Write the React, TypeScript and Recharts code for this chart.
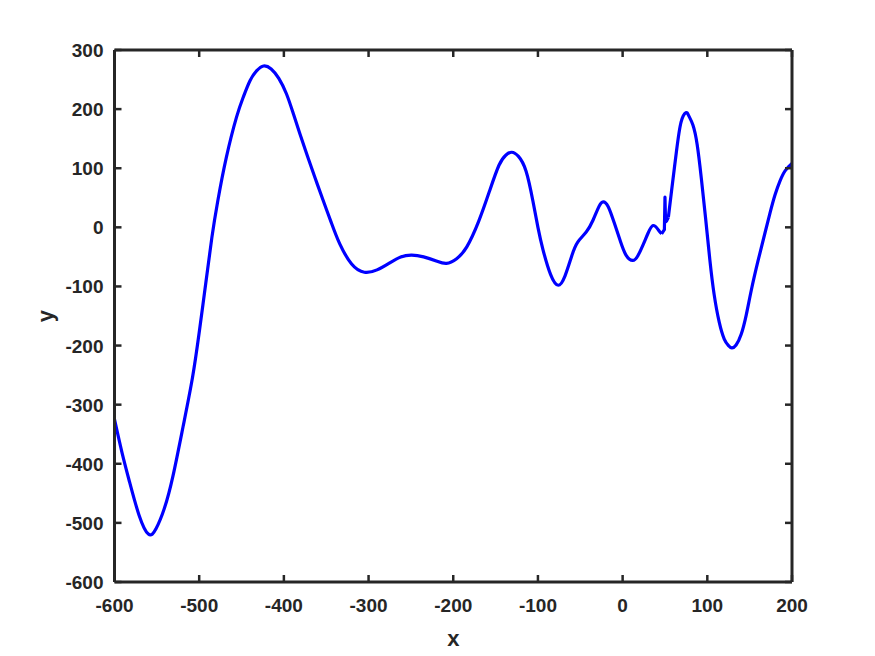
import React from "react";
import { LineChart, Line, XAxis, YAxis, Label } from "recharts";

// values
const xValues = [
  -600, -591, -582, -571, -560, -551, -541, -531, -519, -508, -500, -492, -485, -478, -468, -456, -448, -440,
  -432, -424, -415, -406, -397, -389, -381, -372, -363, -354, -344, -334, -320, -305, -290, -275, -262, -249,
  -235, -220, -208, -196, -184, -170, -157, -146, -138, -131, -123, -114, -106, -100, -94, -85, -76, -68, -60,
  -53, -43, -35, -28, -23, -17, -10, -3, 4, 12, 18, 24, 30, 36, 42, 46, 49.3, 50, 50.7, 52, 54, 57.8, 63.7, 69,
  74.7, 78, 83, 88, 93, 98, 103, 108, 114, 120, 125, 129, 134, 140, 146, 152, 160, 168, 174, 180, 186, 192, 200,
];
const yValues = [
  -325, -382, -432, -487, -519, -510, -475, -421, -337, -255, -178, -92, -17, 45, 118, 186, 220, 248,
  265, 273, 268, 252, 226, 193, 158, 120, 83, 47, 8, -28, -62, -76, -72, -60, -50, -47,
  -50, -57, -61, -53, -33, 10, 62, 105, 122, 127, 120, 95, 45, 0, -38, -80, -98, -82, -48,
  -25, -8, 12, 35, 43, 35, 8, -22, -47, -56, -48, -30, -10, 3, -4, -11, -4, 51, 9, 11, 17, 62, 130, 178,
  194, 189, 173, 140, 82, 15, -55, -113, -160, -189, -200, -204, -199, -181, -148, -106, -56, -10, 24, 55, 79, 96, 108,
];
const xTicks = [-600, -500, -400, -300, -200, -100, 0, 100, 200];
const yTicks = [-600, -500, -400, -300, -200, -100, 0, 100, 200, 300];

// the short glitch near x = 50 is drawn with straight pieces, the rest as a smooth curve
const GLITCH_FROM = 46;
const GLITCH_TO = 54;

const data = xValues.map((x, i) => ({
  x,
  all: yValues[i],
  left: x <= GLITCH_FROM ? yValues[i] : null,
  glitch: x >= GLITCH_FROM && x <= GLITCH_TO ? yValues[i] : null,
  right: x >= GLITCH_TO ? yValues[i] : null,
}));

const W = 875;
const H = 656;
const TOP = 50;
const LEFT = 114.5;
const RIGHT = 792;
const BOTTOM = 582;
const INK = "#262626";
const BLUE = "#0000ff";
const FONT = "'Liberation Sans', Arial, Helvetica, sans-serif";
const TICK_LEN = 7;
const TICK_FONT = 19;

const BottomTick = (props: any) => {
  const { x, payload } = props;
  return (
    <g>
      <line x1={x} x2={x} y1={BOTTOM} y2={BOTTOM - TICK_LEN} stroke={INK} strokeWidth={2.5} />
      <text
        x={x}
        y={BOTTOM + 30}
        textAnchor="middle"
        fontFamily={FONT}
        fontWeight="bold"
        fontSize={TICK_FONT}
        fill={INK}
      >
        {payload.value}
      </text>
    </g>
  );
};

const TopTick = (props: any) => {
  const { x } = props;
  return <line x1={x} x2={x} y1={TOP} y2={TOP + TICK_LEN} stroke={INK} strokeWidth={2.5} />;
};

const LeftTick = (props: any) => {
  const { y, payload } = props;
  return (
    <g>
      <line x1={LEFT} x2={LEFT + TICK_LEN} y1={y} y2={y} stroke={INK} strokeWidth={2.5} />
      <text
        x={LEFT - 11}
        y={y + 7}
        textAnchor="end"
        fontFamily={FONT}
        fontWeight="bold"
        fontSize={TICK_FONT}
        fill={INK}
      >
        {payload.value}
      </text>
    </g>
  );
};

const RightTick = (props: any) => {
  const { y } = props;
  return <line x1={RIGHT} x2={RIGHT - TICK_LEN} y1={y} y2={y} stroke={INK} strokeWidth={2.5} />;
};

const axisLine = { stroke: INK, strokeWidth: 3 };

export default function App() {
  return (
    <div style={{ position: "absolute", left: 0, top: 0, width: W, height: H, background: "#fff" }}>
      <LineChart
        width={W}
        height={H}
        data={data}
        margin={{ top: TOP - 1, right: W - RIGHT - 1, bottom: 0, left: 0 }}
      >
        <XAxis
          xAxisId="b"
          dataKey="x"
          type="number"
          domain={[-600, 200]}
          ticks={xTicks}
          allowDataOverflow
          height={H - BOTTOM}
          axisLine={axisLine}
          tickLine={false}
          tick={<BottomTick />}
          interval={0}
        >
          <Label
            content={() => (
              <text
                x={(LEFT + RIGHT) / 2}
                y={646}
                textAnchor="middle"
                fontFamily={FONT}
                fontWeight="bold"
                fontSize={22}
                fill={INK}
              >
                x
              </text>
            )}
          />
        </XAxis>
        <XAxis
          xAxisId="t"
          orientation="top"
          dataKey="x"
          type="number"
          domain={[-600, 200]}
          ticks={xTicks}
          allowDataOverflow
          height={1}
          axisLine={axisLine}
          tickLine={false}
          tick={<TopTick />}
          interval={0}
        />
        <YAxis
          yAxisId="l"
          type="number"
          domain={[-600, 300]}
          ticks={yTicks}
          allowDataOverflow
          width={LEFT}
          axisLine={axisLine}
          tickLine={false}
          tick={<LeftTick />}
          interval={0}
        >
          <Label
            content={() => (
              <text
                x={45}
                y={(TOP + BOTTOM) / 2}
                textAnchor="middle"
                dominantBaseline="central"
                transform={`rotate(-90, 45, ${(TOP + BOTTOM) / 2})`}
                fontFamily={FONT}
                fontWeight="bold"
                fontSize={22}
                fill={INK}
              >
                y
              </text>
            )}
          />
        </YAxis>
        <YAxis
          yAxisId="r"
          orientation="right"
          type="number"
          domain={[-600, 300]}
          ticks={yTicks}
          allowDataOverflow
          width={1}
          axisLine={axisLine}
          tickLine={false}
          tick={<RightTick />}
          interval={0}
        />
        {/* invisible series so the top and right frame axes are drawn */}
        <Line
          xAxisId="t"
          yAxisId="r"
          dataKey="all"
          stroke="none"
          dot={false}
          activeDot={false}
          isAnimationActive={false}
        />
        <Line
          xAxisId="b"
          yAxisId="l"
          dataKey="left"
          type="natural"
          stroke={BLUE}
          strokeWidth={3.2}
          dot={false}
          isAnimationActive={false}
        />
        <Line
          xAxisId="b"
          yAxisId="l"
          dataKey="glitch"
          type="linear"
          stroke={BLUE}
          strokeWidth={3.2}
          strokeLinejoin="round"
          dot={false}
          isAnimationActive={false}
        />
        <Line
          xAxisId="b"
          yAxisId="l"
          dataKey="right"
          type="natural"
          stroke={BLUE}
          strokeWidth={3.2}
          dot={false}
          isAnimationActive={false}
        />
      </LineChart>
    </div>
  );
}
